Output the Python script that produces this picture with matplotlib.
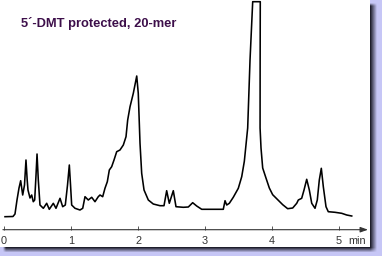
import numpy as np
import matplotlib
matplotlib.use("Agg")
import matplotlib.pyplot as plt

# ---- data ----
time_min = [0.015, 0.134, 0.164, 0.194, 0.224, 0.249, 0.279, 0.306, 0.328, 0.346,
            0.358, 0.388, 0.413, 0.437, 0.458, 0.478, 0.493, 0.512, 0.537, 0.587,
            0.637, 0.676, 0.736, 0.776, 0.836, 0.876, 0.915, 0.948, 0.975, 0.993,
            1.010, 1.060, 1.134, 1.175, 1.209, 1.258, 1.309, 1.358, 1.407, 1.433,
            1.473, 1.507, 1.542, 1.572, 1.607, 1.642, 1.682, 1.731, 1.781, 1.821,
            1.846, 1.881, 1.930, 1.981, 2.004, 2.030, 2.055, 2.090, 2.154, 2.228,
            2.328, 2.388, 2.428, 2.467, 2.527, 2.567, 2.676, 2.751, 2.816, 2.876,
            2.951, 3.273, 3.299, 3.324, 3.363, 3.422, 3.497, 3.548, 3.587, 3.612,
            3.637, 3.672, 3.712, 3.825, 3.823, 3.822, 3.836, 3.861, 3.910, 3.960,
            4.010, 4.085, 4.160, 4.234, 4.309, 4.369, 4.393, 4.443, 4.478, 4.518,
            4.557, 4.593, 4.642, 4.676, 4.706, 4.736, 4.766, 4.806, 4.840, 4.940,
            5.040, 5.115, 5.190]
signal = [13.0, 13.2, 15.7, 29.7, 41.7, 49.0, 34.7, 44.7, 69.7, 49.7,
          39.7, 31.7, 34.7, 28.0, 29.7, 54.7, 75.7, 49.7, 24.7, 21.4,
          26.4, 20.4, 26.4, 21.4, 31.4, 23.0, 24.7, 44.7, 64.7, 44.7,
          24.7, 21.4, 19.7, 21.4, 33.0, 29.7, 32.4, 28.0, 33.0, 34.7,
          33.0, 41.4, 48.0, 59.7, 63.0, 69.7, 78.0, 79.7, 84.7, 93.0,
          109.7, 123.0, 136.4, 153.7, 136.4, 86.4, 56.4, 39.7, 29.7, 25.7,
          24.0, 24.0, 39.0, 26.4, 39.0, 23.0, 22.4, 22.7, 27.0, 23.7,
          20.4, 20.4, 29.0, 24.7, 26.4, 32.4, 41.4, 53.0, 68.4, 85.0,
          101.7, 169.7, 228.0, 228.0, 169.7, 101.7, 81.7, 61.7, 51.7, 41.7,
          35.0, 30.0, 25.0, 21.0, 21.7, 26.4, 29.7, 31.4, 39.7, 50.4,
          39.7, 26.4, 21.4, 29.7, 49.7, 61.4, 43.0, 23.0, 18.0, 17.4,
          16.4, 14.7, 13.7]
tick_values = [0, 1, 2, 3, 4, 5]
tick_labels = ["0", "1", "2", "3", "4", "5"]
title_text = "5\u00b4-DMT protected, 20-mer"
unit_text = "min"

W, H = 382, 256
fig = plt.figure(figsize=(W / 100, H / 100), dpi=100)

# ---- background frame with drop shadow ----
bg = fig.add_axes([0, 0, 1, 1])
bg.set_xlim(0, W)
bg.set_ylim(H, 0)
bg.axis("off")
yy, xx = np.mgrid[0:H, 0:W] + 0.5
lav = np.array([198, 198, 246]) / 255.0
dark = np.array([30, 30, 44]) / 255.0
px_r, px_b = 370.5, 247.5
def ramp(v):
    return np.clip(v, 0, 1)
sx = ramp((377.0 - xx) / 6.5) * ramp((xx - 3) / 3.0)
sy = ramp((252.5 - yy) / 5.0) * ramp((yy - 3) / 3.0)
sh = sx * sy
img = lav[None, None, :] * (1 - sh[..., None]) + dark[None, None, :] * sh[..., None]
inside = (xx < px_r) & (yy < px_b)
img[inside] = 1.0
bg.imshow(img, extent=(0, W, H, 0), interpolation="bilinear", aspect="auto")

# ---- chromatogram axes ----
x_left, x_right = 4, 368
y_axis = 229.7
ax = fig.add_axes([x_left / W, (H - y_axis) / H, (x_right - x_left) / W, y_axis / H])
ax.patch.set_alpha(0)
xmax = (x_right - x_left) / 67.0
ax.set_xlim(0, xmax)
ax.set_ylim(0, y_axis)
ax.plot(time_min, signal, color="black", lw=1.15, solid_joinstyle="round", clip_on=False)

for s in ["top", "right", "left", "bottom"]:
    ax.spines[s].set_visible(False)
ax.set_yticks([])
ax.set_xticks(tick_values)
ax.set_xticklabels(tick_labels, fontsize=7.8, color="#333333", family="Liberation Sans")
ax.tick_params(axis="x", direction="in", length=2.6, width=0.7, color="#555555", pad=4.6)
ax.annotate("", xy=(1, 0), xytext=(-0.003, 0), xycoords="axes fraction",
            arrowprops=dict(arrowstyle="-|>,head_length=0.45,head_width=0.16",
                            color="#333333", lw=0.8, mutation_scale=10,
                            shrinkA=0, shrinkB=0), annotation_clip=False)

fig.text(357 / W, 1 - 240.7 / H, unit_text, ha="center", va="center", fontsize=7.8,
         color="#333333", family="Liberation Sans")
fig.text(20.7 / W, 1 - 23.3 / H, title_text, ha="left", va="center", fontsize=9.3,
         fontweight="bold", color="#3d0f4a", family=["Liberation Sans", "DejaVu Sans"])

fig.savefig("out.png", dpi=100)
